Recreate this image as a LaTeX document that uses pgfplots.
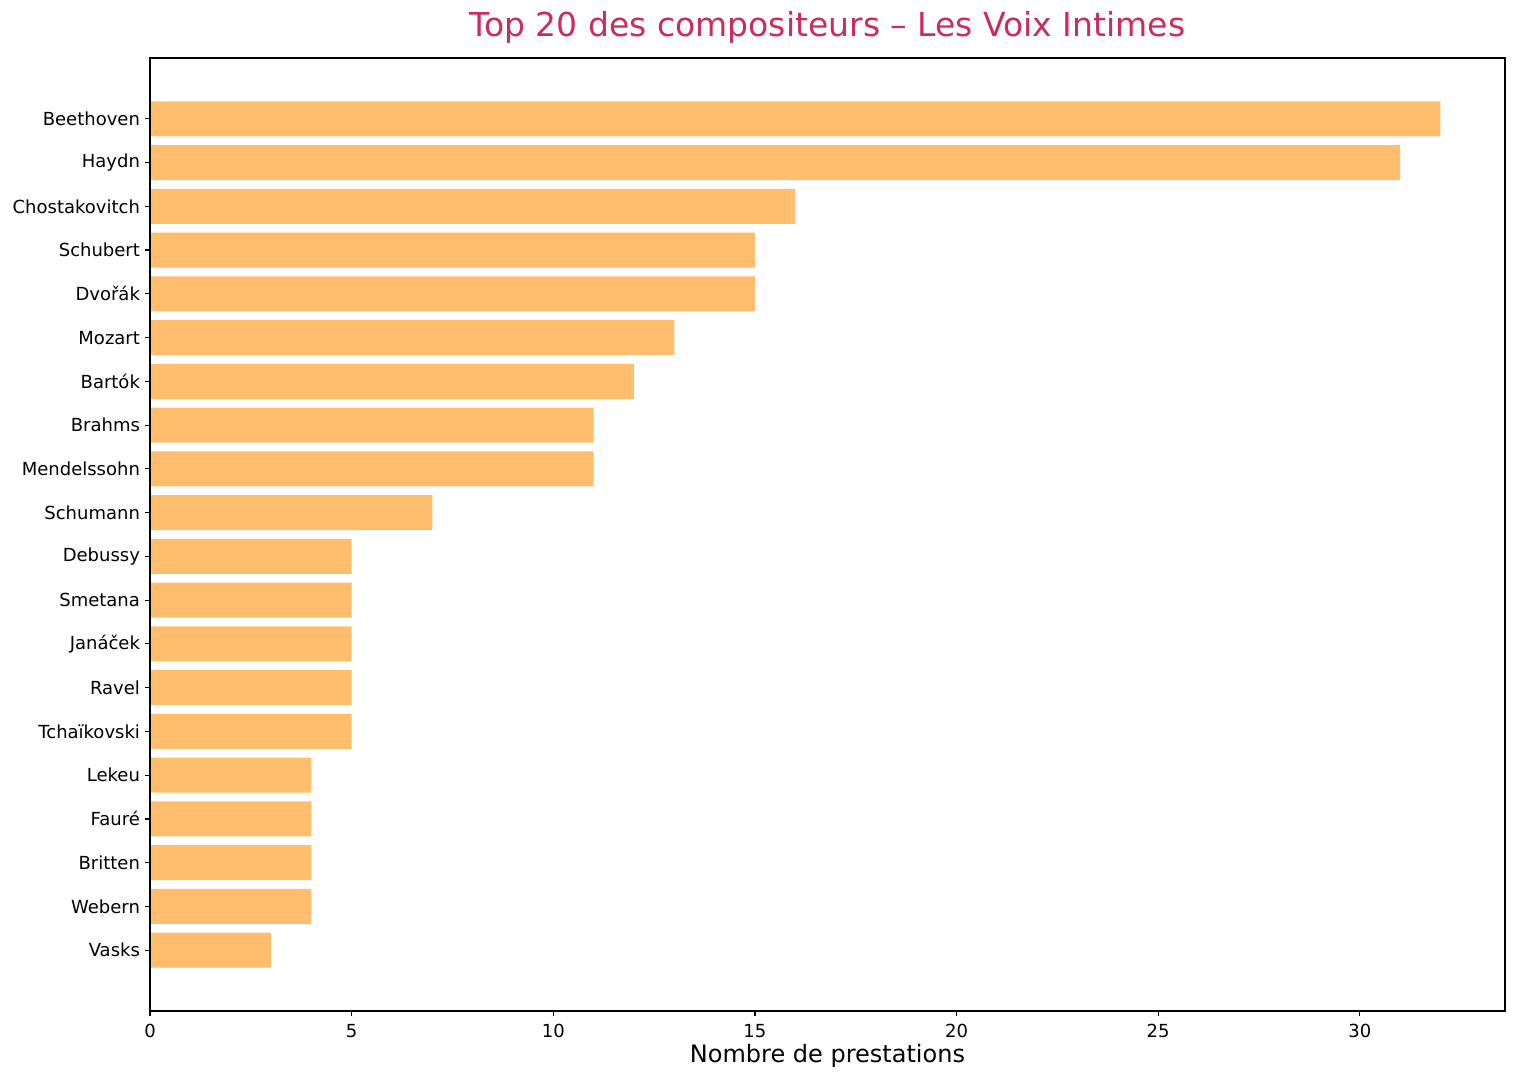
\documentclass[border=0pt]{standalone}
\usepackage{pgfplots}
\pgfplotsset{compat=1.18}
\usepackage{fontspec}
\setmainfont{DejaVu Sans}
\definecolor{barorange}{HTML}{FFBD6D}
\definecolor{titlered}{HTML}{CC2B5E}
\begin{document}
\begin{tikzpicture}
\begin{axis}[
    name=ax,
    scale only axis,
    axis on top,
    width=677.5pt, height=476.5pt,
    xbar, bar width=0.8, bar shift=0pt,
    xmin=0, xmax=33.6,
    ymin=-1.39, ymax=20.39,
    y dir=reverse,
    xtick={0,5,...,30},
    ytick={0,...,19},
    yticklabels={Beethoven, Haydn, Chostakovitch, Schubert, Dvořák, Mozart, Bartók, Brahms, Mendelssohn, Schumann, Debussy, Smetana, Janáček, Ravel, Tchaïkovski, Lekeu, Fauré, Britten, Webern, Vasks},
    tick align=outside,
    major tick length=2.5pt,
    tick style={line width=0.6pt, black},
    axis line style={line width=0.6pt},
    xtick pos=bottom, ytick pos=left,
    /pgf/number format/assume math mode=true,
    tick label style={font=\fontsize{9}{11}\selectfont},
    yticklabel style={xshift=1pt},
    xticklabel style={yshift=-0.5pt},
    xlabel={Nombre de prestations},
    xlabel style={font=\fontsize{12}{14}\selectfont, at={(axis description cs:0.5,0)}, anchor=base, yshift=-25.5pt},
    title={Top 20 des compositeurs – Les Voix Intimes},
    title style={font=\fontsize{16.5}{19}\selectfont, text=titlered, at={(axis description cs:0.5,1)}, anchor=base, yshift=5pt},
]
\addplot[fill=barorange, draw=none] coordinates {
    (32,0) (31,1) (16,2) (15,3) (15,4) (13,5) (12,6) (11,7) (11,8) (7,9)
    (5,10) (5,11) (5,12) (5,13) (5,14) (4,15) (4,16) (4,17) (4,18) (3,19)
};
\end{axis}
\pgfresetboundingbox
\path[use as bounding box] ([xshift=-75pt,yshift=-34.5pt]ax.south west) rectangle ([xshift=5.5pt,yshift=29pt]ax.north east);
\end{tikzpicture}
\end{document}
